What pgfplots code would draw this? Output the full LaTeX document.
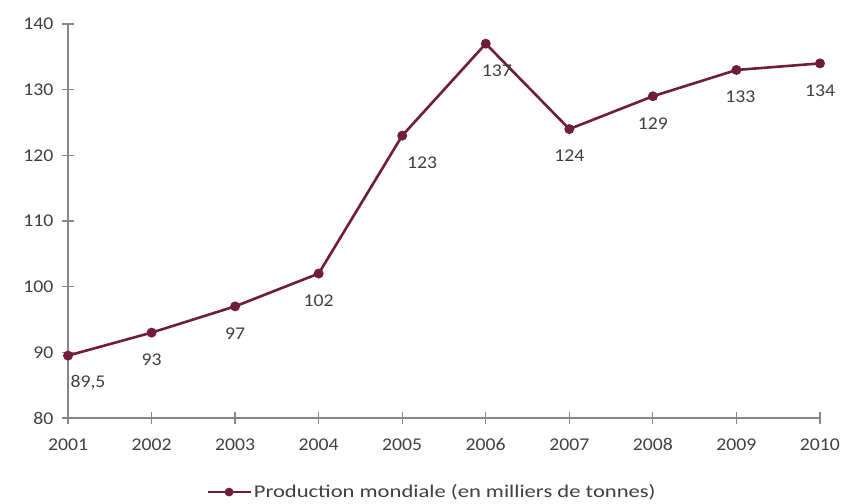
\documentclass[border=0pt]{standalone}
\usepackage{pgfplots}
\pgfplotsset{compat=1.18}
\usepackage{pgfplotstable}
\usepackage{fontspec}
\setmainfont{Carlito}[FakeStretch=1.1]
\newfontfamily\legfont{Carlito}[FakeStretch=1.26]
\definecolor{serie}{HTML}{701C3C}
\definecolor{axisgray}{HTML}{868686}
\definecolor{txt}{HTML}{404040}
\pgfplotstableread{
x y lab dx
2001 89.5 89,5 20
2002 93 93 0
2003 97 97 0
2004 102 102 0
2005 123 123 20
2006 137 137 11
2007 124 124 0
2008 129 129 0
2009 133 133 4
2010 134 134 0
}\datatable
\begin{document}
\begin{tikzpicture}
\useasboundingbox (-68bp,-86bp) rectangle (777bp,418bp);
\begin{axis}[
  scale only axis,
  width=752bp, height=394bp,
  xmin=2001, xmax=2010, ymin=80, ymax=140,
  xtick={2001,...,2010}, ytick={80,90,...,140},
  axis x line*=bottom, axis y line*=left,
  axis line style={axisgray, line width=1.2bp, -},
  tick style={axisgray, line width=1.2bp},
  major tick length=12bp, tick align=center,
  tick label style={txt},
  font=\fontsize{18}{20}\selectfont,
  /pgf/number format/assume math mode=true,
  /pgf/number format/1000 sep={},
  xticklabel shift=11bp,
  yticklabel style={xshift=-5bp},
  legend style={draw=none, at={(0.484,-0.188)}, anchor=center, font=\legfont\fontsize{18}{20}\selectfont, text=txt, legend cell align=left,
    /tikz/every odd column/.append style={inner xsep=1bp}},
  legend image code/.code={\draw[mark repeat=2,mark phase=2,#1, mark size=3bp] plot coordinates {(0bp,0bp) (21.5bp,0bp) (43bp,0bp)};},
  clip=false,
]
\addplot[serie, line width=2.6bp, mark=*, mark size=3.6bp,
  nodes near coords, point meta=explicit symbolic,
  visualization depends on={\thisrow{dx} \as \dx},
  every node near coord/.append style={txt, anchor=center, yshift=-27bp, xshift=\dx bp, font=\fontsize{18}{20}\selectfont}
] table[x=x, y=y, meta=lab] {\datatable};
\addlegendentry{Production mondiale (en milliers de tonnes)}
\end{axis}
\end{tikzpicture}
\end{document}
